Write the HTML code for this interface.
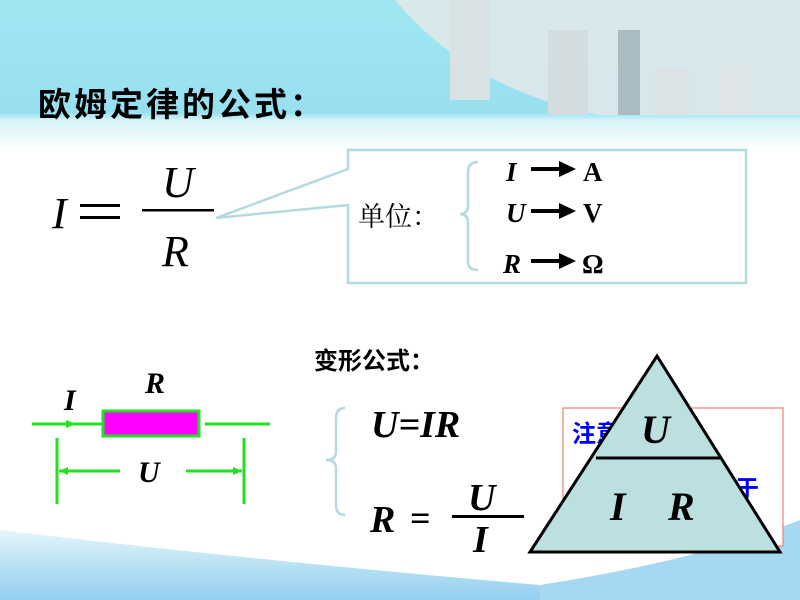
<!DOCTYPE html>
<html><head><meta charset="utf-8"><style>
html,body{margin:0;padding:0;width:800px;height:600px;overflow:hidden;background:#fff}
svg{display:block}
text{font-family:"Liberation Serif","Noto Serif CJK SC",serif}
.cj{font-family:"Noto Sans CJK SC",sans-serif;font-weight:bold}
</style></head><body>
<svg width="800" height="600" viewBox="0 0 800 600" xmlns="http://www.w3.org/2000/svg">
<defs>
<linearGradient id="top" x1="0" y1="0" x2="0" y2="1">
<stop offset="0" stop-color="#a0e6f2"/><stop offset="0.75" stop-color="#98e0f0"/><stop offset="0.8" stop-color="#d4f3f9"/><stop offset="1" stop-color="#ffffff"/>
</linearGradient>
<linearGradient id="bot" x1="0" y1="0" x2="0" y2="1">
<stop offset="0" stop-color="#e4f5fb"/><stop offset="0.5" stop-color="#b8e2f4"/><stop offset="1" stop-color="#94cef0"/>
</linearGradient>
</defs>
<rect x="0" y="0" width="800" height="150" fill="url(#top)"/>
<path d="M395 0 Q470 90 600 115 L800 115 L800 0 Z" fill="#dfe8ea" opacity="0.9"/>
<rect x="548" y="30" width="40" height="85" fill="#d3dcde"/>
<rect x="618" y="30" width="22" height="85" fill="#a8bcc2"/>
<rect x="655" y="70" width="35" height="45" fill="#dce3e4"/>
<rect x="720" y="65" width="30" height="50" fill="#dfe5e6"/>
<rect x="450" y="0" width="40" height="100" fill="#d8e1e3"/>
<path d="M0 530 Q250 560 540 585 L800 585 L800 600 L0 600 Z" fill="url(#bot)"/>
<path d="M540 585 Q700 560 800 520 L800 600 L540 600Z" fill="#a6d8f2"/>
<text x="38" y="116" class="cj" font-size="33" letter-spacing="3" fill="#000">欧姆定律的公式：</text>

<text x="52" y="228" font-size="44" font-style="italic">I</text>
<rect x="80" y="204" width="40" height="3" fill="#000"/><rect x="80" y="216" width="40" height="3" fill="#000"/>
<text x="162" y="197" font-size="44" font-style="italic">U</text>
<rect x="142" y="209" width="72" height="2.5" fill="#000"/>
<text x="162" y="266" font-size="44" font-style="italic">R</text>

<path d="M348 169 L348 150 L746 150 L746 283 L348 283 L348 205 L216 218 Z" fill="#fff" stroke="#b3dadf" stroke-width="2.5"/>
<text x="358" y="226" font-family="Noto Sans CJK SC,sans-serif" font-size="27">单位：</text>
<path d="M478 162 Q468 162 468 172 L468 205 Q468 214 460 214 Q468 214 468 223 L468 262 Q468 270 478 270" fill="none" stroke="#b3dadf" stroke-width="2.5"/>
<g font-size="27" font-weight="bold" font-style="italic">
<text x="506" y="181">I</text><text x="506" y="222">U</text><text x="503" y="273">R</text></g>
<g fill="#000">
<rect x="531" y="167" width="30" height="4"/><path d="M559 161 L576 169 L559 177Z"/>
<rect x="531" y="209" width="30" height="4"/><path d="M559 203 L576 211 L559 219Z"/>
<rect x="531" y="259" width="30" height="4"/><path d="M559 253 L576 261 L559 269Z"/></g>
<g font-size="27" font-weight="bold"><text x="583" y="181">A</text><text x="583" y="222">V</text><text x="582" y="273">Ω</text></g>

<text x="314" y="369" class="cj" font-size="24">变形公式：</text>

<g stroke="#22e022" stroke-width="3" fill="none">
<line x1="32" y1="424" x2="105" y2="424"/><line x1="205" y1="424" x2="270" y2="424"/>
<line x1="57" y1="438" x2="57" y2="504"/><line x1="244" y1="438" x2="244" y2="504"/>
<line x1="59" y1="471" x2="120" y2="471"/><line x1="186" y1="471" x2="242" y2="471"/>
</g>
<path d="M66 420 L76 424 L66 428Z" fill="#22e022"/>
<path d="M59 471 L68 467 L68 475Z" fill="#22e022"/><path d="M242 471 L233 467 L233 475Z" fill="#22e022"/>
<rect x="103" y="411" width="96" height="25" fill="#ff00ff" stroke="#22e022" stroke-width="3"/>
<g font-size="30" font-weight="bold" font-style="italic">
<text x="64" y="410">I</text><text x="145" y="393">R</text><text x="138" y="482">U</text></g>

<path d="M345 408 Q336 408 336 418 L336 452 Q336 460 326 460 Q336 460 336 468 L336 505 Q336 515 345 515" fill="none" stroke="#b3dadf" stroke-width="2.5"/>
<g font-size="38" font-weight="bold" font-style="italic">
<text x="371" y="437">U=IR</text>
<text x="370" y="532">R</text><text x="468" y="510">U</text><text x="473" y="552">I</text></g>
<text x="410" y="530" font-size="36" font-weight="bold">=</text>
<rect x="452" y="515" width="72" height="3" fill="#000"/>

<rect x="563" y="408" width="220" height="138" fill="#fff" stroke="#f08070" stroke-width="1.2"/>
<text x="572" y="442" class="cj" font-size="24" fill="#0000ff">注意</text>
<text x="735" y="497" class="cj" font-size="24" fill="#0000ff">于</text>
<path d="M657 356 L780 552 L530 552 Z" fill="#bcdfe0" stroke="#000" stroke-width="3"/>
<line x1="596" y1="458" x2="721" y2="458" stroke="#000" stroke-width="3"/>
<g font-size="40" font-weight="bold" font-style="italic">
<text x="641" y="443">U</text><text x="610" y="520">I</text><text x="668" y="520">R</text></g>
</svg>
</body></html>
